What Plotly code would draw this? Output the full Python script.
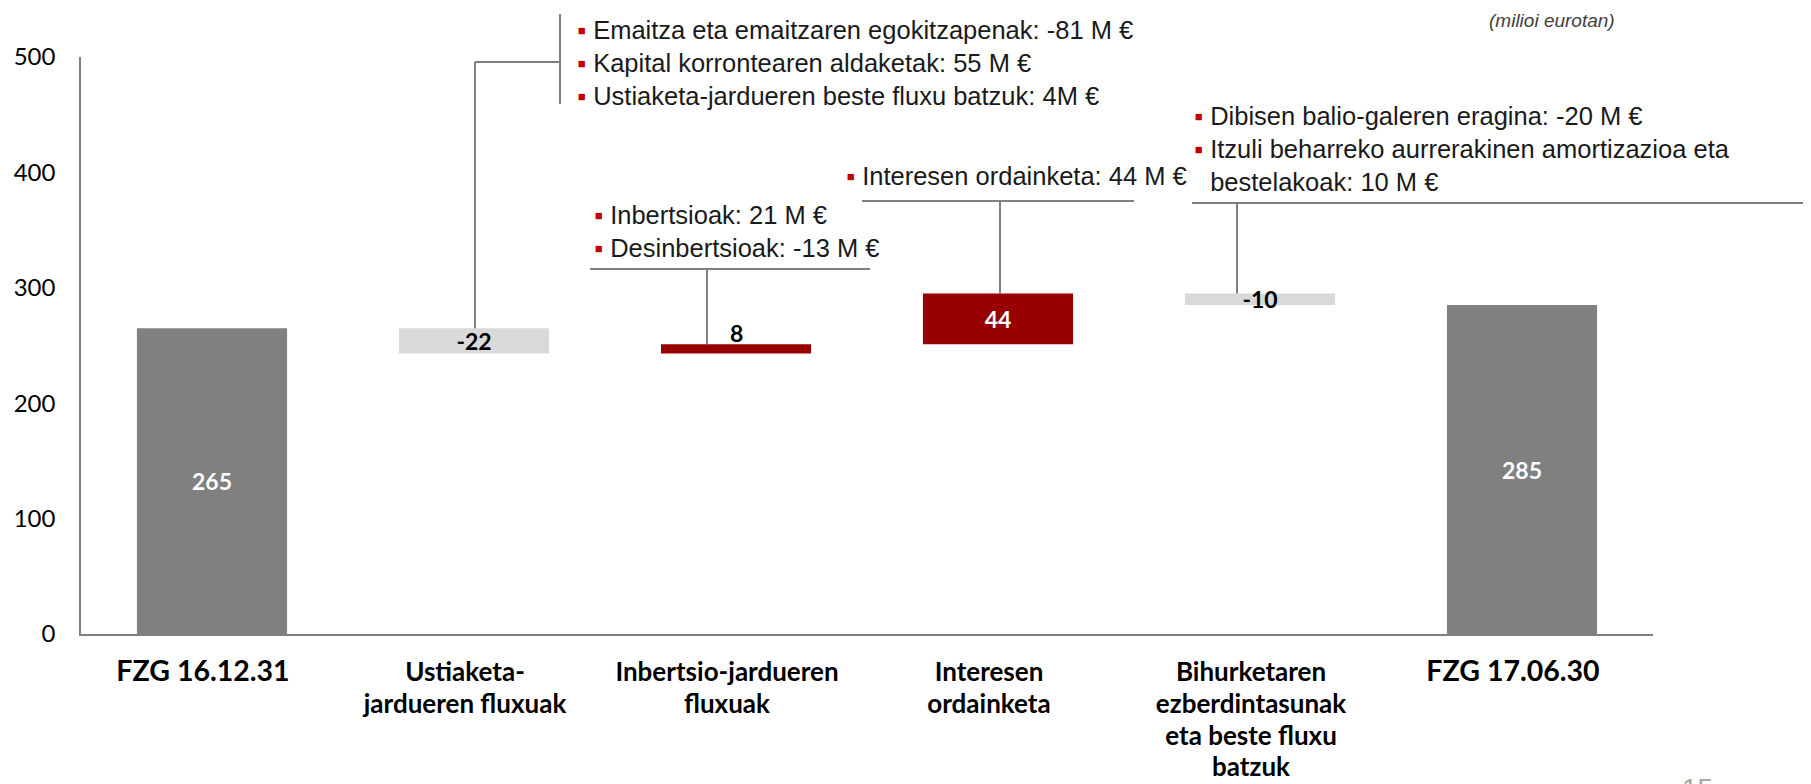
import plotly.graph_objects as go

# ---------------- data ----------------
categories = ["FZG 16.12.31", "Ustiaketa-jardueren fluxuak", "Inbertsio-jardueren fluxuak",
              "Interesen ordainketa", "Bihurketaren ezberdintasunak eta beste fluxu batzuk",
              "FZG 17.06.30"]
tick_lines = [["FZG 16.12.31"], ["Ustiaketa-", "jardueren fluxuak"], ["Inbertsio-jardueren", "fluxuak"],
              ["Interesen", "ordainketa"], ["Bihurketaren", "ezberdintasunak", "eta beste fluxu", "batzuk"],
              ["FZG 17.06.30"]]
values = [265, -22, 8, 44, -10, 285]
measures = ["absolute", "relative", "relative", "relative", "relative", "total"]
value_labels = ["265", "-22", "8", "44", "-10", "285"]

notes_1 = ["Emaitza eta emaitzaren egokitzapenak: -81 M €",
           "Kapital korrontearen aldaketak: 55 M €",
           "Ustiaketa-jardueren beste fluxu batzuk: 4M €"]
notes_2 = ["Inbertsioak: 21 M €", "Desinbertsioak: -13 M €"]
notes_3 = ["Interesen ordainketa: 44 M €"]
notes_4 = ["Dibisen balio-galeren eragina: -20 M €",
           "Itzuli beharreko aurrerakinen amortizazioa eta|bestelakoak: 10 M €"]
unit_note = "(milioi eurotan)"
page_number = "15"

# ---------------- styling ----------------
C_TOTAL = "#808080"
C_DOWN = "#D9D9D9"
C_UP = "#990000"
C_BULLET = "#C00000"
C_LINE = "#808080"

W, H = 1811, 784          # browser window
BODY = 8                  # default page margin around the figure
L, R, T, B = 81, 1653, 57, 634   # plot area in page pixels


def px(x):
    return (x - L) / (R - L)


def py(y):
    return (B - y) / (B - T)


YMAX = 500

# running totals -> top of each bar
tops = []
run = 0
for v, m in zip(values, measures):
    if m == "absolute":
        run = v
        tops.append(v)
    elif m == "relative":
        tops.append(max(run, run + v))
        run += v
    else:
        tops.append(run)

# label placement: the thin "8" bar gets its label sitting on top of the bar
above = [False, False, True, False, False, False]
text_col = ["white", "black", "black", "white", "black", "white"]
label_font = dict(family="Lato", size=23, weight="bold")

fig = go.Figure()
fig.add_trace(go.Waterfall(
    x=categories, y=values, measure=measures,
    text=["" if a else t for t, a in zip(value_labels, above)],
    textposition="inside", insidetextanchor="middle",
    constraintext="none", textangle=0, cliponaxis=False,
    textfont=dict(**label_font, color=text_col),
    increasing=dict(marker=dict(color=C_UP, line=dict(width=0))),
    decreasing=dict(marker=dict(color=C_DOWN, line=dict(width=0))),
    totals=dict(marker=dict(color=C_TOTAL, line=dict(width=0))),
    connector=dict(visible=False),
    showlegend=False, hoverinfo="skip",
))


def tick_text(lines):
    size = 28.5 if lines[0].startswith("FZG") else 26
    return "<br>".join(f"<span style='font-size:{size}px'>{s}</span>" for s in lines)


fig.update_xaxes(
    tickmode="array", tickvals=categories, ticktext=[tick_text(t) for t in tick_lines],
    tickfont=dict(family="Lato", size=24.4, color="black", weight="bold"),
    showline=True, linecolor=C_LINE, linewidth=2, showgrid=False, zeroline=False,
    ticks="", ticklabelstandoff=16, ticklabelshift=-9, automargin=False,
)
fig.update_yaxes(
    range=[0, YMAX], dtick=100, tick0=0,
    tickfont=dict(family="Lato", size=24, color="black"),
    showline=True, linecolor=C_LINE, linewidth=1.5, showgrid=False, zeroline=False,
    ticks="", ticklabelstandoff=19, automargin=False,
)

# ---------------- annotation boxes ----------------
BUL = f"<span style='color:{C_BULLET}'>▪</span> "
GHOST = "<span style='color:rgba(0,0,0,0)'>▪</span> "


def note_text(items):
    out = []
    for it in items:
        parts = it.split("|")
        out.append(BUL + parts[0])
        for p in parts[1:]:
            out.append(GHOST + p)
    return "<br>".join(out)


note_font = dict(family="Liberation Sans, Arial", size=25.5, color="#1a1a1a")

# (items, text-left px, text-center-y px, bar index, connector x px, level y px, hline x0, hline x1)
note_specs = [
    (notes_1, 575, 63, 1, 475, 62, 475, 560),
    (notes_2, 592, 231, 2, 707, 269, 590, 870),
    (notes_3, 844, 176, 3, 1000, 201, 862, 1134),
    (notes_4, 1192, 149, 4, 1237, 203, 1192, 1811),
]

shapes = []
annotations = []
for items, tx, ty, bi, cx, ly, hx0, hx1 in note_specs:
    annotations.append(dict(
        text=note_text(items), xref="paper", yref="paper", x=px(tx), y=py(ty),
        xanchor="left", yanchor="middle", align="left", showarrow=False, font=note_font,
    ))
    line = dict(color=C_LINE, width=2)
    # connector from the bar top up to the bracket level
    shapes.append(dict(type="line", xref="paper", yref="paper", x0=px(cx), x1=px(cx),
                       y0=tops[bi] / YMAX, y1=py(ly), line=line))
    # horizontal bracket line
    shapes.append(dict(type="line", xref="paper", yref="paper", x0=px(hx0), x1=px(hx1),
                       y0=py(ly), y1=py(ly), line=line))

# vertical bracket next to the first note
shapes.append(dict(type="line", xref="paper", yref="paper", x0=px(560), x1=px(560),
                   y0=py(14), y1=py(104), line=dict(color=C_LINE, width=2)))

# value labels that sit on top of their bar
for i, a in enumerate(above):
    if a:
        annotations.append(dict(
            text=value_labels[i], xref="x", yref="y", x=categories[i], y=tops[i],
            xanchor="center", yanchor="bottom", yshift=-5, showarrow=False,
            font=dict(**label_font, color=text_col[i]),
        ))

annotations.append(dict(
    text=f"<i>{unit_note}</i>", xref="paper", yref="paper", x=px(1552), y=py(20),
    xanchor="center", yanchor="middle", showarrow=False,
    font=dict(family="Liberation Sans Narrow, Liberation Sans, Arial", size=19, color="#404040"),
))
annotations.append(dict(
    text=page_number, xref="paper", yref="paper", x=px(1697), y=py(771),
    xanchor="center", yanchor="top", showarrow=False,
    font=dict(family="Liberation Sans, Arial", size=28, color="#A6A6A6"),
))

fig.update_layout(
    width=W - BODY, height=H - BODY, autosize=False,
    margin=dict(l=L - BODY, r=W - R, t=T - BODY, b=H - B, pad=0),
    paper_bgcolor="white", plot_bgcolor="white",
    waterfallgap=0.427,
    shapes=shapes, annotations=annotations,
    showlegend=False,
)

fig.write_html("out.html")
